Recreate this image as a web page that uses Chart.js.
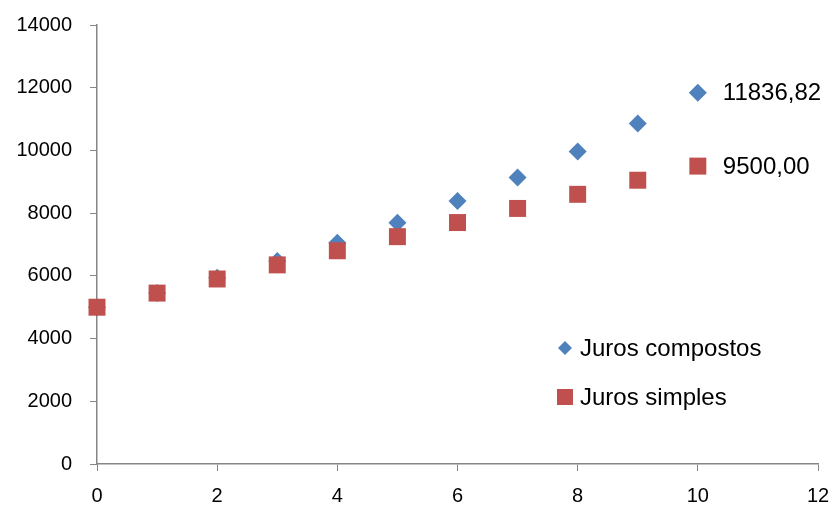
<!DOCTYPE html>
<html><head><meta charset="utf-8">
<script src="https://cdn.jsdelivr.net/npm/chart.js@4"></script>
<style>html,body{margin:0;padding:0;background:#fff;}#wrap{width:835px;height:505px;}</style>
</head><body><div id="wrap"><canvas id="c" width="835" height="505"></canvas></div>
<script>
const periods = [0,1,2,3,4,5,6,7,8,9,10];
const jurosCompostos = [5000,5450,5940.5,6475.15,7057.91,7693.12,8385.50,9140.20,9962.81,10859.47,11836.82];
const jurosSimples = [5000,5450,5900,6350,6800,7250,7700,8150,8600,9050,9500];
const seriesNames = ['Juros compostos','Juros simples'];
const endLabels = ['11836,82','9500,00'];
const FONT = '"Liberation Sans", Arial, sans-serif';
const BLUE = '#4F81BD', RED = '#C0504D';

const overlay = {
  id:'overlay',
  afterDatasetsDraw(chart){
    const ctx = chart.ctx;
    ctx.save();
    ctx.font = '24px ' + FONT;
    ctx.fillStyle = '#000';
    ctx.textBaseline = 'middle';
    ctx.textAlign = 'left';
    chart.data.datasets.forEach((ds, i)=>{
      const meta = chart.getDatasetMeta(i);
      const p = meta.data[meta.data.length-1];
      ctx.fillText(endLabels[ds.seriesIndex], p.x + 25, p.y + 1);
    });
    // legend
    const lx = 565, ly = [348, 397];
    ctx.fillStyle = BLUE;
    ctx.beginPath();
    ctx.moveTo(lx, ly[0]-7); ctx.lineTo(lx+7, ly[0]); ctx.lineTo(lx, ly[0]+7); ctx.lineTo(lx-7, ly[0]); ctx.closePath(); ctx.fill();
    ctx.fillStyle = RED;
    ctx.fillRect(lx-8, ly[1]-8, 16, 16);
    ctx.fillStyle = '#000';
    ctx.font = '24px ' + FONT;
    ctx.fillText(seriesNames[0], lx+15, ly[0]+1);
    ctx.fillText(seriesNames[1], lx+15, ly[1]+1);
    ctx.restore();
  }
};

const chart = new Chart(document.getElementById('c'), {
  type:'scatter',
  data:{
    datasets:[
      {label:seriesNames[1], seriesIndex:1, data: periods.map((x,i)=>({x, y: jurosSimples[i]})), pointStyle:'rect', pointRadius:12, pointHoverRadius:12, backgroundColor:RED, borderColor:RED, borderWidth:0, order:1, clip:false},
      {label:seriesNames[0], seriesIndex:0, data: periods.map((x,i)=>({x, y: jurosCompostos[i]})), pointStyle:'rectRot', pointRadius:9, pointHoverRadius:9, backgroundColor:BLUE, borderColor:BLUE, borderWidth:0, order:2, clip:false}
    ]
  },
  options:{
    responsive:false, animation:false,
    layout:{padding:{left:0,right:17,top:25,bottom:0}},
    plugins:{legend:{display:false}, tooltip:{enabled:false}},
    scales:{
      x:{type:'linear', min:0, max:12,
        ticks:{stepSize:2, color:'#000', font:{family:FONT,size:20}, padding:13, callback:v=>String(v)},
        grid:{drawOnChartArea:false, drawTicks:true, tickLength:7, color:'#868686'},
        border:{color:'#868686', width:1.5},
        afterFit(s){ s.height = 41; s.paddingLeft = 0; s.paddingRight = 0; }},
      y:{min:0, max:14000,
        ticks:{stepSize:2000, color:'#000', font:{family:FONT,size:20}, padding:18, callback:v=>String(v)},
        grid:{drawOnChartArea:false, drawTicks:true, tickLength:7, color:'#868686'},
        border:{color:'#868686', width:1.5},
        afterFit(s){ s.width = 97; s.paddingTop = 0; s.paddingBottom = 0; }}
    }
  },
  plugins:[overlay]
});
</script></body></html>
